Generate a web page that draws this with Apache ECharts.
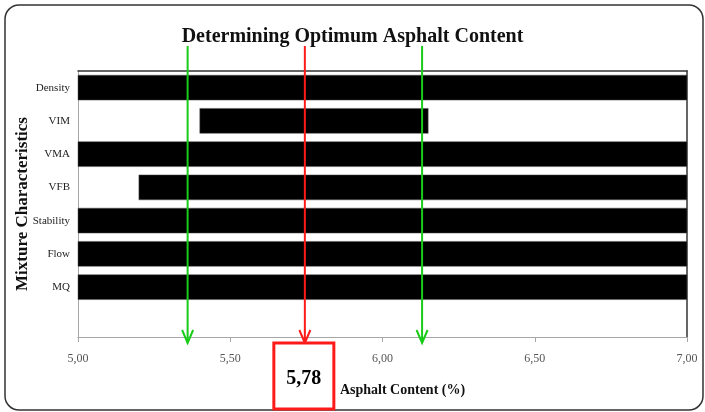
<!DOCTYPE html>
<html lang="en">
  <head>
    <meta charset="UTF-8" />
    <title>Determining Optimum Asphalt Content</title>
    <script src="https://cdn.jsdelivr.net/npm/echarts@6/dist/echarts.min.js"></script>
  </head>
  <body style="margin: 0">
    <div id="chart" style="width: 705px; height: 412px"></div>
    <script>
      // mixture characteristics, top to bottom (last slot is empty)
      const categories = ['Density', 'VIM', 'VMA', 'VFB', 'Stability', 'Flow', 'MQ', '']
      // acceptable asphalt content range for each characteristic
      const rangeStart = [5.0, 5.4, 5.0, 5.2, 5.0, 5.0, 5.0]
      const rangeEnd = [7.0, 6.15, 7.0, 7.0, 7.0, 7.0, 7.0]
      // arrow positions: lower limit, optimum, upper limit
      const arrowValues = [5.36, 5.745, 6.13]
      const arrowKinds = ['limit', 'optimum', 'limit']
      const optimumLabel = '5,78'
      const xTicks = { min: 5, max: 7, interval: 0.5 }

      const serif = '"Liberation Serif", "Times New Roman", serif'
      const chart = echarts.init(document.getElementById('chart'))

      const barData = rangeStart.map((s, i) => [s, rangeEnd[i], i])
      const arrowData = arrowValues.map((v, i) => [v, 0, i])

      const option = {
        animation: false,
        backgroundColor: '#fff',
        title: {
          text: 'Determining Optimum Asphalt Content',
          left: 'center',
          top: 22,
          textStyle: { fontFamily: serif, fontSize: 20, fontWeight: 'bold', color: '#111' },
        },
        graphic: [
          {
            type: 'rect',
            shape: { x: 5, y: 5, width: 698, height: 405, r: 14 },
            style: { fill: 'none', stroke: '#333', lineWidth: 1.5 },
            z: 0,
          },
        ],
        grid: { left: 78, right: 18, top: 71, bottom: 75, outerBoundsMode: 'none' },
        xAxis: [
          {
            type: 'value',
            min: xTicks.min,
            max: xTicks.max,
            interval: xTicks.interval,
            name: 'Asphalt Content (%)',
            nameLocation: 'middle',
            nameGap: 46,
            nameMoveOverlap: false,
            nameTextStyle: {
              fontFamily: serif, fontSize: 14, fontWeight: 'bold', color: '#111',
              padding: [0, 0, 0, 40],
            },
            axisLine: { show: true, lineStyle: { color: '#a6a6a6', width: 1 } },
            axisTick: { show: true, length: 5, lineStyle: { color: '#a6a6a6' } },
            axisLabel: {
              margin: 16,
              fontFamily: serif,
              fontSize: 12,
              color: '#555',
              formatter: v => v.toFixed(2).replace('.', ','),
            },
            splitLine: { show: false },
          },
          {
            type: 'value',
            position: 'top',
            min: xTicks.min,
            max: xTicks.max,
            axisLine: { show: true, lineStyle: { color: '#333', width: 1.5 } },
            axisTick: { show: false },
            axisLabel: { show: false },
            splitLine: { show: false },
          },
        ],
        yAxis: [
          {
            type: 'category',
            data: categories,
            inverse: true,
            name: 'Mixture Characteristics',
            nameLocation: 'middle',
            nameGap: 47,
            nameMoveOverlap: false,
            nameRotate: 90,
            nameTextStyle: { fontFamily: serif, fontSize: 17, fontWeight: 'bold', color: '#111' },
            axisLine: { show: true, lineStyle: { color: '#a6a6a6' } },
            axisTick: { show: false },
            axisLabel: { margin: 8, fontFamily: serif, fontSize: 11, color: '#222' },
          },
          {
            type: 'value',
            position: 'right',
            axisLine: { show: true, lineStyle: { color: '#333', width: 1.5 } },
            axisTick: { show: false },
            axisLabel: { show: false },
            splitLine: { show: false },
          },
        ],
        series: [
          {
            type: 'custom',
            name: 'ranges',
            encode: { x: [0, 1], y: 2 },
            data: barData,
            renderItem: (params, api) => {
              const cat = api.value(2)
              const p0 = api.coord([api.value(0), cat])
              const p1 = api.coord([api.value(1), cat])
              const h = api.size([0, 1])[1] * 0.75
              return {
                type: 'rect',
                shape: { x: p0[0], y: p0[1] - h / 2, width: p1[0] - p0[0], height: h },
                style: { fill: '#000', stroke: '#555', lineWidth: 0.5 },
              }
            },
          },
          {
            type: 'custom',
            name: 'arrows',
            encode: { x: 0 },
            data: arrowData,
            z: 5,
            renderItem: (params, api) => {
              const idx = api.value(2)
              const kind = arrowKinds[idx]
              const color = kind === 'optimum' ? '#ff1a1a' : '#18cc18'
              const x = api.coord([api.value(0), 0])[0]
              const cs = params.coordSys
              const top = cs.y - 25
              const tip = cs.y + cs.height + 6
              const children = [
                {
                  type: 'line',
                  shape: { x1: x, y1: top, x2: x, y2: tip },
                  style: { stroke: color, lineWidth: 2 },
                },
                {
                  type: 'polyline',
                  shape: { points: [[x - 5.5, tip - 13], [x, tip], [x + 5.5, tip - 13]] },
                  style: { stroke: color, lineWidth: 2, fill: 'none' },
                },
              ]
              if (kind === 'optimum') {
                children.push({
                  type: 'rect',
                  shape: { x: x - 31, y: tip, width: 60, height: 66 },
                  style: { fill: '#fff', stroke: color, lineWidth: 3 },
                })
                children.push({
                  type: 'text',
                  style: {
                    x: x - 1, y: tip + 36,
                    text: optimumLabel,
                    align: 'center', verticalAlign: 'middle',
                    font: 'bold 20px ' + serif,
                    fill: '#000',
                  },
                })
              }
              return { type: 'group', children }
            },
          },
        ],
      }

      chart.setOption(option)
    </script>
  </body>
</html>
